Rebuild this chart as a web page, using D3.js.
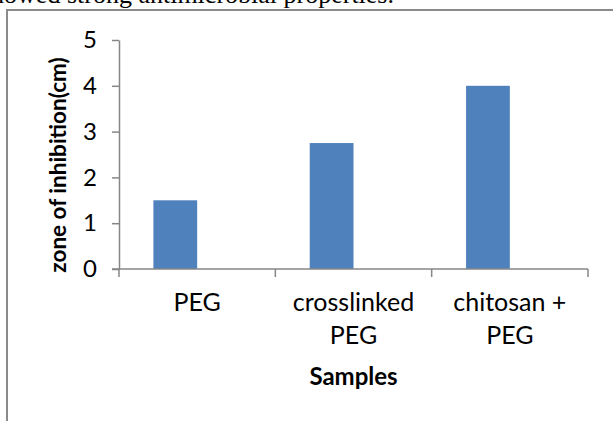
<!DOCTYPE html>
<html>
<head>
<meta charset="utf-8">
<script src="https://cdn.jsdelivr.net/npm/d3@7"></script>
<style>
  body { margin: 0; background: #fff; }
  svg { display: block; }
</style>
</head>
<body>
<div class="div_chart"></div>
<script>
const categories = [["PEG"], ["crosslinked", "PEG"], ["chitosan +", "PEG"]];
const values = [1.5, 2.75, 4.0];
const yTicks = [0, 1, 2, 3, 4, 5];
const yTitle = "zone of inhibition(cm)";
const xTitle = "Samples";
const caption = "showed strong antimicrobial properties.";

const width = 613;
const height = 421;
const margin = {top: 40, right: 25, bottom: 152, left: 119};
const color = "#4f81bd";
const axisColor = "#868686";
const font = "Lato, 'Open Sans', sans-serif";

const svg = d3.select(".div_chart")
  .append("svg")
    .attr("width", width)
    .attr("height", height);

// text line of the page above the chart (cut off at the top, as in the source)
svg.append("text")
  .attr("x", 394)
  .attr("y", 3)
  .attr("text-anchor", "end")
  .attr("font-family", "'Liberation Serif', 'Times New Roman', serif")
  .attr("font-size", 26)
  .attr("fill", "#000")
  .text(caption);

// chart frame
svg.append("rect")
  .attr("x", 7)
  .attr("y", 10)
  .attr("width", 700)
  .attr("height", 500)
  .attr("fill", "none")
  .attr("stroke", "#8a8a8a")
  .attr("stroke-width", 2);

const x = d3.scaleBand()
  .domain(d3.range(categories.length))
  .range([margin.left, width - margin.right])
  .padding(0);

const y = d3.scaleLinear()
  .domain([0, 5])
  .range([height - margin.bottom, margin.top]);

const barWidth = x.bandwidth() * 0.28;

// bars (sit just left of the category centre)
svg.append("g")
  .selectAll("rect")
  .data(values)
  .join("rect")
    .attr("fill", color)
    .attr("x", (d, i) => x(i) + x.bandwidth() / 2 - barWidth)
    .attr("y", d => y(d))
    .attr("width", barWidth)
    .attr("height", d => y(0) - y(d));

// y axis
const yAxis = svg.append("g")
  .attr("transform", `translate(${margin.left},0)`)
  .call(d3.axisLeft(y).tickValues(yTicks).tickFormat(d3.format("d"))
    .tickSize(7).tickPadding(15).tickSizeOuter(0));
yAxis.selectAll("line, path").attr("stroke", axisColor).attr("stroke-width", 1.5);
yAxis.selectAll("text")
  .attr("font-family", font)
  .attr("font-size", 24)
  .attr("fill", "#000");

// x axis: ticks at category boundaries
const xAxis = svg.append("g")
  .attr("transform", `translate(0,${y(0)})`);
xAxis.append("line")
  .attr("x1", margin.left - 7)
  .attr("x2", width - margin.right)
  .attr("stroke", axisColor)
  .attr("stroke-width", 1.5);
xAxis.selectAll(".tick")
  .data(d3.range(categories.length + 1))
  .join("line")
    .attr("class", "tick")
    .attr("x1", i => i < categories.length ? x(i) : x(i - 1) + x.bandwidth())
    .attr("x2", i => i < categories.length ? x(i) : x(i - 1) + x.bandwidth())
    .attr("y1", 0)
    .attr("y2", 8)
    .attr("stroke", axisColor)
    .attr("stroke-width", 1.5);

xAxis.selectAll(".label")
  .data(categories)
  .join("text")
    .attr("class", "label")
    .attr("text-anchor", "middle")
    .attr("font-family", font)
    .attr("font-size", 25)
    .attr("fill", "#000")
    .attr("transform", (d, i) => `translate(${x(i) + x.bandwidth() / 2},42)`)
    .selectAll("tspan")
    .data(d => d)
    .join("tspan")
      .attr("x", 0)
      .attr("y", (d, j) => j * 33)
      .text(d => d);

// axis titles
svg.append("text")
  .attr("x", (margin.left + width - margin.right) / 2)
  .attr("y", 385)
  .attr("text-anchor", "middle")
  .attr("font-family", font)
  .attr("font-size", 24)
  .attr("font-weight", "bold")
  .attr("fill", "#000")
  .text(xTitle);

svg.append("text")
  .attr("transform", `translate(66,165) rotate(-90)`)
  .attr("text-anchor", "middle")
  .attr("font-family", font)
  .attr("font-size", 22.5)
  .attr("font-weight", "bold")
  .attr("fill", "#000")
  .text(yTitle);
</script>
</body>
</html>
